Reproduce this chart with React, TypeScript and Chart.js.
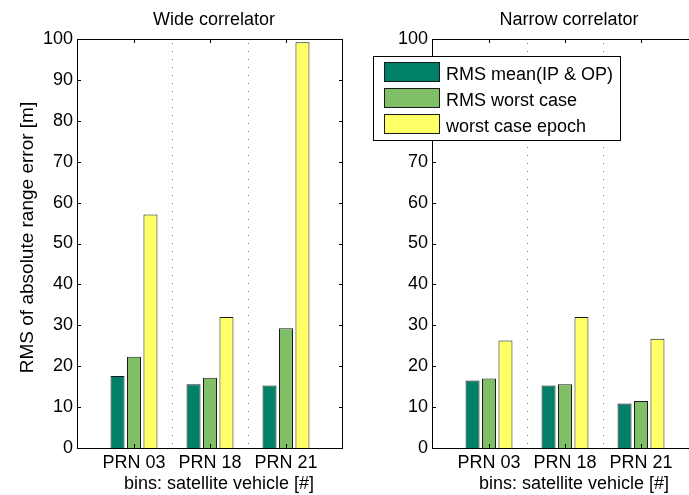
import { useEffect, useRef } from 'react';
import { Chart, registerables } from 'chart.js';

Chart.register(...registerables);

// Satellite bins and series
const categories = ['PRN 03', 'PRN 18', 'PRN 21'];
const seriesNames = ['RMS mean(IP & OP)', 'RMS worst case', 'worst case epoch'];
const seriesColors = ['#008066', '#80BF66', '#FFFF66'];

// Wide correlator values [m]
const wideMean = [17.6, 15.6, 15.3];
const wideWorst = [22.3, 17.2, 29.3];
const wideEpoch = [57.1, 32.0, 99.2];

// Narrow correlator values [m]
const narrowMean = [16.5, 15.3, 10.9];
const narrowWorst = [17.0, 15.6, 11.5];
const narrowEpoch = [26.3, 32.0, 26.7];

const yMin = 0;
const yMax = 100;
const yStep = 10;
const xMin = 0.25;
const xMax = 3.75;
const separators = [1.5, 2.5];

const FONT = 'Liberation Sans, Arial, Helvetica, sans-serif';
const FONT_SIZE = 18;
const TEXT = '#000';

type PanelOpts = {
  title: string;
  series: number[][];
  yAxisWidth: number;
  padRight: number;
  yLabel?: string;
  legend?: { x: number; y: number; w: number; h: number };
};

function panelPlugin(p: PanelOpts) {
  return {
    id: 'panelDecor',
    beforeDatasetsDraw(chart: any) {
      const { ctx, chartArea, scales } = chart;
      const { top, bottom } = chartArea;
      ctx.save();
      ctx.strokeStyle = '#777';
      ctx.lineWidth = 1;
      ctx.setLineDash([1, 7]);
      for (const v of separators) {
        const px = Math.round(scales.x.getPixelForValue(v)) + 0.5;
        ctx.beginPath();
        ctx.moveTo(px, top + 4);
        ctx.lineTo(px, bottom);
        ctx.stroke();
      }
      ctx.restore();
    },
    afterDatasetsDraw(chart: any) {
      const { ctx, chartArea, scales } = chart;
      const { left, right, top, bottom } = chartArea;
      ctx.save();
      ctx.strokeStyle = '#000';
      ctx.lineWidth = 1;
      ctx.setLineDash([]);
      ctx.strokeRect(left + 0.5, top + 0.5, right - left - 1, bottom - top);
      // inward tick marks
      const tl = 4;
      ctx.beginPath();
      for (const t of scales.y.ticks) {
        const py = Math.round(scales.y.getPixelForValue(t.value)) + 0.5;
        ctx.moveTo(left, py);
        ctx.lineTo(left + tl, py);
        ctx.moveTo(right, py);
        ctx.lineTo(right - tl, py);
      }
      for (const t of scales.x.ticks) {
        const px = Math.round(scales.x.getPixelForValue(t.value)) + 0.5;
        ctx.moveTo(px, top);
        ctx.lineTo(px, top + tl);
        ctx.moveTo(px, bottom);
        ctx.lineTo(px, bottom - tl);
      }
      ctx.stroke();
      ctx.restore();
    },
    afterDraw(chart: any) {
      const { ctx, chartArea } = chart;
      const { left, right, top, bottom } = chartArea;
      const cx = (left + right) / 2;
      ctx.save();
      ctx.fillStyle = TEXT;
      ctx.font = `${FONT_SIZE}px ${FONT}`;
      ctx.textBaseline = 'alphabetic';
      ctx.textAlign = 'center';
      ctx.fillText(p.title, cx + 4, 25);
      ctx.fillText('bins: satellite vehicle [#]', cx + 9, 489);
      if (p.yLabel) {
        ctx.save();
        ctx.translate(33, (top + bottom) / 2 - 6);
        ctx.rotate(-Math.PI / 2);
        ctx.font = `${FONT_SIZE + 1}px ${FONT}`;
        ctx.fillText(p.yLabel, 0, 0);
        ctx.restore();
      }
      if (p.legend) {
        const L = p.legend;
        ctx.fillStyle = '#fff';
        ctx.fillRect(L.x, L.y, L.w, L.h);
        ctx.strokeStyle = '#000';
        ctx.lineWidth = 1;
        ctx.strokeRect(L.x + 0.5, L.y + 0.5, L.w, L.h);
        ctx.textAlign = 'left';
        chart.data.datasets.forEach((ds: any, i: number) => {
          const sy = L.y + 6 + i * 26;
          ctx.fillStyle = ds.backgroundColor;
          ctx.fillRect(L.x + 11, sy, 56, 19);
          ctx.strokeStyle = '#1a1a1a';
          ctx.strokeRect(L.x + 11.5, sy + 0.5, 55, 19);
          ctx.fillStyle = TEXT;
          ctx.fillText(ds.label, L.x + 73, sy + 18);
        });
      }
      ctx.restore();
    },
  };
}

function makeConfig(p: PanelOpts): any {
  return {
    type: 'bar',
    data: {
      datasets: p.series.map((vals, k) => ({
        label: seriesNames[k],
        data: vals.map((v, i) => ({ x: i + 1, y: v })),
        backgroundColor: seriesColors[k],
        borderColor: '#1a1a1a',
        borderWidth: 1,
        categoryPercentage: 0.65,
        barPercentage: 0.85,
      })),
    },
    options: {
      responsive: false,
      animation: false,
      devicePixelRatio: 1,
      layout: { padding: { top: 39, right: p.padRight, left: 0, bottom: 0 } },
      plugins: {
        legend: { display: false },
        tooltip: { enabled: false },
        title: { display: false },
      },
      scales: {
        x: {
          type: 'linear',
          min: xMin,
          max: xMax,
          offset: false,
          bounds: 'data',
          grid: { display: false, drawTicks: false, offset: false },
          border: { display: false },
          afterBuildTicks: (s: any) => {
            s.ticks = categories.map((_, i) => ({ value: i + 1 }));
          },
          afterFit: (s: any) => {
            s.height = 495 - 448;
          },
          ticks: {
            autoSkip: false,
            maxRotation: 0,
            padding: 4,
            color: TEXT,
            font: { family: FONT, size: FONT_SIZE },
            callback: (v: any) => categories[Math.round(Number(v)) - 1] ?? '',
          },
        },
        y: {
          min: yMin,
          max: yMax,
          grid: { display: false, drawTicks: false },
          border: { display: false },
          afterFit: (s: any) => {
            s.width = p.yAxisWidth;
          },
          ticks: {
            stepSize: yStep,
            padding: 4,
            color: TEXT,
            font: { family: FONT, size: FONT_SIZE },
          },
        },
      },
    },
    plugins: [panelPlugin(p)],
  };
}

export default function App() {
  const leftRef = useRef<HTMLCanvasElement | null>(null);
  const rightRef = useRef<HTMLCanvasElement | null>(null);

  useEffect(() => {
    if (!leftRef.current || !rightRef.current) return;
    const left = new Chart(
      leftRef.current,
      makeConfig({
        title: 'Wide correlator',
        series: [wideMean, wideWorst, wideEpoch],
        yAxisWidth: 77,
        padRight: 2,
        yLabel: 'RMS of absolute range error [m]',
      })
    );
    const right = new Chart(
      rightRef.current,
      makeConfig({
        title: 'Narrow correlator',
        series: [narrowMean, narrowWorst, narrowEpoch],
        yAxisWidth: 87,
        padRight: 3,
        legend: { x: 28, y: 56, w: 247, h: 84 },
      })
    );
    return () => {
      left.destroy();
      right.destroy();
    };
  }, []);

  return (
    <div
      style={{
        position: 'fixed',
        left: 0,
        top: 0,
        width: 689,
        height: 495,
        overflow: 'hidden',
        background: '#fff',
      }}
    >
      <canvas
        ref={leftRef}
        width={345}
        height={495}
        style={{ position: 'absolute', left: 0, top: 0, width: 345, height: 495 }}
      />
      <canvas
        ref={rightRef}
        width={356}
        height={495}
        style={{ position: 'absolute', left: 345, top: 0, width: 356, height: 495 }}
      />
    </div>
  );
}
